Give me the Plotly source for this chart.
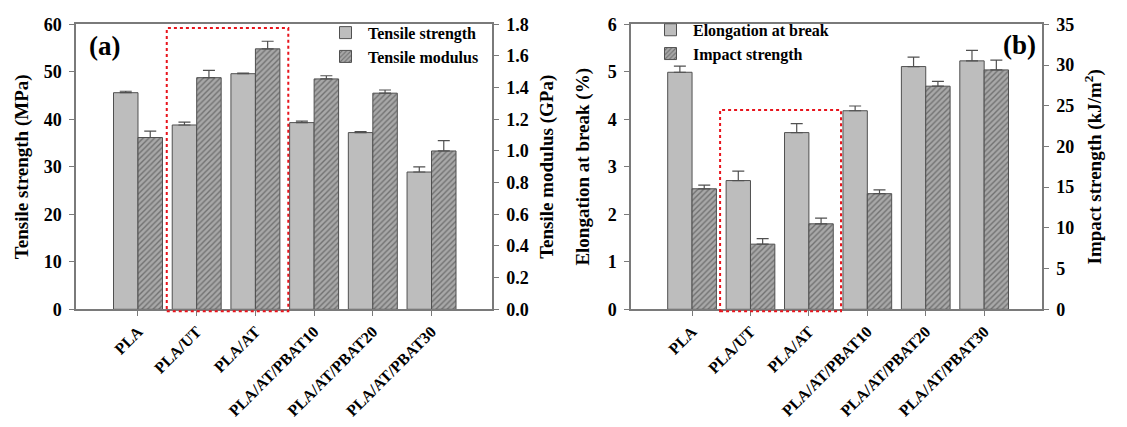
import plotly.graph_objects as go

categories = ["PLA", "PLA/UT", "PLA/AT", "PLA/AT/PBAT10", "PLA/AT/PBAT20", "PLA/AT/PBAT30"]

tensile_strength = [45.6, 38.8, 49.6, 39.3, 37.2, 28.9]
tensile_strength_err = [0.3, 0.6, 0.1, 0.3, 0.2, 1.1]
tensile_modulus = [1.085, 1.463, 1.645, 1.455, 1.365, 1.00]
tensile_modulus_err = [0.04, 0.046, 0.048, 0.02, 0.02, 0.065]

elongation = [4.99, 2.71, 3.72, 4.18, 5.11, 5.23]
elongation_err = [0.13, 0.20, 0.19, 0.10, 0.20, 0.22]
impact = [14.8, 8.0, 10.5, 14.2, 27.4, 29.4]
impact_err = [0.45, 0.67, 0.7, 0.47, 0.6, 1.2]

xpos = list(range(len(categories)))

FONT = "Liberation Serif"
AXIS_COLOR = "#7a7a7a"
SOLID = "#bdbdbd"
OUTLINE = "#505050"
W = 0.417

def solid_bar(y, err, xa, ya, name, legend):
    return go.Bar(
        x=xpos, y=y, xaxis=xa, yaxis=ya, name=f"<b>{name}</b>", legend=legend,
        width=W, offset=-W,
        marker=dict(color=SOLID, line=dict(color=OUTLINE, width=1)),
        error_y=dict(type="data", array=err, arrayminus=[0] * len(err), symmetric=False,
                     color=OUTLINE, thickness=1.2, width=6),
    )

def hatch_bar(y, err, xa, ya, name, legend):
    return go.Bar(
        x=xpos, y=y, xaxis=xa, yaxis=ya, name=f"<b>{name}</b>", legend=legend,
        width=W, offset=0,
        marker=dict(color="#a8a8a8", line=dict(color=OUTLINE, width=1),
                    pattern=dict(shape="/", bgcolor="#a8a8a8", fgcolor="#3a3a3a", size=4, solidity=0.35)),
        error_y=dict(type="data", array=err, arrayminus=[0] * len(err), symmetric=False,
                     color=OUTLINE, thickness=1.2, width=6),
    )

fig = go.Figure()
fig.add_trace(solid_bar(tensile_strength, tensile_strength_err, "x", "y", "Tensile strength", "legend"))
fig.add_trace(hatch_bar(tensile_modulus, tensile_modulus_err, "x", "y2", "Tensile modulus", "legend"))
fig.add_trace(solid_bar(elongation, elongation_err, "x2", "y3", "Elongation at break", "legend2"))
fig.add_trace(hatch_bar(impact, impact_err, "x2", "y4", "Impact strength", "legend2"))

tickfont = dict(family=FONT, size=18, color="black")
titlefont = dict(family=FONT, size=19, color="black")
xtickfont = dict(family=FONT, size=16, color="black")

ydom = [1 - 314 / 427, 1 - 15 / 427]
axcommon = dict(showline=True, linecolor=AXIS_COLOR, linewidth=1.5, ticks="outside",
                tickcolor=AXIS_COLOR, ticklen=5, showgrid=False, zeroline=False)
ycommon = dict(tickfont=tickfont, tickprefix="<b>", ticksuffix="</b>", ticklabelstandoff=4, **axcommon)

fig.update_layout(
    width=1127, height=427,
    margin=dict(l=0, r=0, t=0, b=0),
    paper_bgcolor="white", plot_bgcolor="white",
    font=dict(family=FONT, color="black"),
    barmode="overlay",
    xaxis=dict(domain=[76 / 1127, 492 / 1127], range=[-1.056, 6.03], tickmode="array",
               tickvals=xpos, ticktext=[f"<b>{c}</b>" for c in categories], tickangle=-45,
               tickfont=xtickfont, anchor="y", mirror=True, **axcommon),
    yaxis=dict(domain=ydom, range=[0, 60], dtick=10, anchor="x",
               title=dict(text="<b>Tensile strength (MPa)</b>", font=titlefont, standoff=10),
               **ycommon),
    yaxis2=dict(range=[0, 1.8], dtick=0.2, tickformat=".1f", overlaying="y", side="right",
                anchor="x",
                title=dict(text="<b>Tensile modulus (GPa)</b>", font=titlefont, standoff=12),
                **ycommon),
    xaxis2=dict(domain=[631 / 1127, 1042 / 1127], range=[-1.045, 5.99], tickmode="array",
                tickvals=xpos, ticktext=[f"<b>{c}</b>" for c in categories], tickangle=-45,
                tickfont=xtickfont, anchor="y3", mirror=True, **axcommon),
    yaxis3=dict(domain=ydom, range=[0, 6], dtick=1, anchor="x2",
                title=dict(text="<b>Elongation at break (%)</b>", font=titlefont, standoff=13),
                **ycommon),
    yaxis4=dict(range=[0, 35], dtick=5, overlaying="y3", side="right", anchor="x2",
                title=dict(text="<b>Impact strength (kJ/m<sup>2</sup>)</b>", font=titlefont, standoff=14),
                **ycommon),
    legend=dict(x=323 / 1127, xanchor="left", y=1 - 6 / 427, yanchor="top",
                bgcolor="rgba(0,0,0,0)", font=dict(family=FONT, size=16, color="black"),
                tracegroupgap=0, itemwidth=35, traceorder="normal"),
    legend2=dict(x=648 / 1127, xanchor="left", y=1 - 3 / 427, yanchor="top",
                 bgcolor="rgba(0,0,0,0)", font=dict(family=FONT, size=16, color="black"),
                 tracegroupgap=0, itemwidth=35, traceorder="normal"),
    showlegend=True,
)

# highlight boxes
fig.add_shape(type="rect", xref="x", yref="paper", x0=0.49, x1=2.56,
              y0=1 - 316 / 427, y1=1 - 19 / 427,
              line=dict(color="#e8141c", width=2, dash="dot"), layer="above")
fig.add_shape(type="rect", xref="x2", yref="paper", x0=0.48, x1=2.55,
              y0=1 - 316 / 427, y1=1 - 105 / 427,
              line=dict(color="#e8141c", width=2, dash="dot"), layer="above")

fig.add_annotation(text="<b>(a)</b>", xref="paper", yref="paper", x=104 / 1127, y=1 - 38 / 427,
                   xanchor="center", yanchor="middle",
                   showarrow=False, font=dict(family=FONT, size=27, color="black"))
fig.add_annotation(text="<b>(b)</b>", xref="paper", yref="paper", x=1019 / 1127, y=1 - 37 / 427,
                   xanchor="center", yanchor="middle",
                   showarrow=False, font=dict(family=FONT, size=27, color="black"))

fig.write_html("out.html")
